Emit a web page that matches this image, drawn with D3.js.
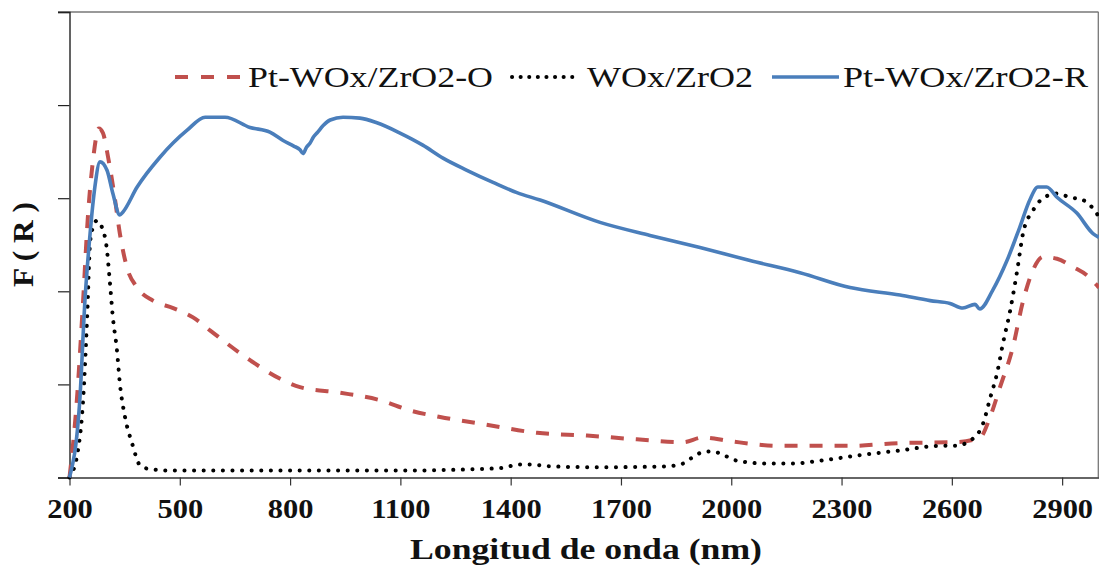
<!DOCTYPE html>
<html><head><meta charset="utf-8">
<script src="https://cdn.jsdelivr.net/npm/d3@7"></script>
<style>
html,body{margin:0;padding:0;background:#fff;}
svg{display:block;}
</style></head>
<body>
<svg id="chart" width="1099" height="569"></svg>
<script>
// ---- data (wavelength nm, F(R) arbitrary units) ----
const seriesNames = ["Pt-WOx/ZrO2-O", "WOx/ZrO2", "Pt-WOx/ZrO2-R"];
const xTicks = [200, 500, 800, 1100, 1400, 1700, 2000, 2300, 2600, 2900];
const yTicks = [0, 1, 2, 3, 4, 5];

const redO = [[200,0],[220,0.83],[237,1.9],[250,2.8],[264,3.41],[280,3.75],[291,3.7],[305,3.44],[324,2.98],[337,2.62],[356,2.26],[384,2.04],[427,1.9],[482,1.82],[536,1.72],[582,1.58],[691,1.26],[773,1.06],[827,0.97],[936,0.91],[1045,0.83],[1126,0.72],[1208,0.65],[1330,0.57],[1472,0.48],[1608,0.45],[1743,0.41],[1869,0.38],[1923,0.43],[1997,0.39],[2133,0.34],[2323,0.34],[2459,0.37],[2614,0.38],[2677,0.43],[2704,0.65],[2731,0.97],[2766,1.4],[2794,1.9],[2821,2.23],[2848,2.37],[2886,2.35],[2930,2.26],[2968,2.17],[3000,2.04]];

const blackW = [[200,0],[223,0.29],[237,0.83],[248,1.72],[256,2.52],[264,2.69],[275,2.76],[288,2.69],[302,2.44],[310,2.09],[318,1.72],[329,1.37],[337,1.01],[351,0.65],[370,0.37],[392,0.13],[419,0.09],[473,0.075],[1099,0.075],[1371,0.1],[1425,0.14],[1453,0.14],[1507,0.12],[1643,0.11],[1825,0.12],[1869,0.15],[1896,0.22],[1920,0.27],[1942,0.28],[1969,0.26],[1991,0.22],[2016,0.18],[2097,0.15],[2168,0.15],[2241,0.18],[2350,0.24],[2459,0.29],[2568,0.34],[2609,0.34],[2658,0.42],[2685,0.58],[2704,0.85],[2723,1.12],[2739,1.44],[2759,1.8],[2778,2.23],[2794,2.63],[2821,2.87],[2848,3.0],[2886,3.05],[2921,3.01],[2957,2.98],[2984,2.89],[3000,2.8]];

const blueR = [[200,0],[228,0.83],[242,1.9],[256,2.62],[269,3.12],[283,3.39],[302,3.3],[318,3.05],[337,2.82],[345,2.85],[384,3.12],[446,3.44],[520,3.73],[569,3.87],[623,3.87],[691,3.76],[745,3.71],[781,3.62],[810,3.56],[827,3.52],[835,3.48],[845,3.55],[854,3.59],[864,3.66],[873,3.7],[890,3.78],[909,3.84],[944,3.87],[990,3.86],[1036,3.81],[1099,3.7],[1161,3.57],[1216,3.43],[1281,3.3],[1352,3.17],[1417,3.06],[1480,2.98],[1643,2.74],[1779,2.6],[1915,2.47],[2051,2.33],[2187,2.2],[2323,2.04],[2459,1.96],[2541,1.9],[2595,1.87],[2630,1.82],[2663,1.86],[2676,1.81],[2711,2.01],[2750,2.33],[2785,2.69],[2812,2.98],[2834,3.12],[2858,3.12],[2886,3.01],[2940,2.84],[2984,2.62],[3000,2.58]];

// ---- drawing ----
const svg = d3.select("#chart");
const serif = "'Liberation Serif','Times New Roman',serif";
const x = d3.scaleLinear().domain([200, 3000]).range([69.5, 1098.9]);
const y = d3.scaleLinear().domain([0, 5]).range([477.5, 12]);

// border (top / right)
svg.append("line").attr("x1", 58).attr("x2", 1098.5).attr("y1", 12).attr("y2", 12).attr("stroke", "#777").attr("stroke-width", 1.3);
svg.append("line").attr("x1", 1098.3).attr("x2", 1098.3).attr("y1", 12).attr("y2", 477.5).attr("stroke", "#777").attr("stroke-width", 1.3);

// y axis
const gy = svg.append("g").attr("transform", "translate(69.5,0)")
  .call(d3.axisLeft(y).tickValues(yTicks).tickSize(11.5).tickFormat(""));
gy.select(".domain").attr("stroke", "#222").attr("stroke-width", 1.4);
gy.selectAll(".tick line").attr("stroke", "#222").attr("stroke-width", 1.2);

// x axis
const gx = svg.append("g").attr("transform", "translate(0,477.5)")
  .call(d3.axisBottom(x).tickValues(xTicks).tickSize(8).tickSizeOuter(0).tickFormat(d3.format("d")));
gx.select(".domain").attr("stroke", "#333").attr("stroke-width", 1.4);
gx.selectAll(".tick line").attr("stroke", "#333").attr("stroke-width", 1.2);
gx.selectAll(".tick text")
  .attr("y", 40.5).attr("dy", 0)
  .attr("fill", "#111")
  .attr("font-family", serif).attr("font-weight", "bold").attr("font-size", 26.5)
  .attr("transform", "scale(1.15,1)");

// series
const line = d3.line().x(d => x(d[0])).y(d => y(d[1])).curve(d3.curveMonotoneX);
const plot = svg.append("g");
plot.append("path").datum(redO).attr("d", line).attr("fill", "none")
  .attr("stroke", "#C0504D").attr("stroke-width", 4).attr("stroke-dasharray", "13 12");
plot.append("path").datum(blackW).attr("d", line).attr("fill", "none")
  .attr("stroke", "#000").attr("stroke-width", 4).attr("stroke-linecap", "round").attr("stroke-dasharray", "0.1 9.5");
plot.append("path").datum(blueR).attr("d", line).attr("fill", "none")
  .attr("stroke", "#4A7EBB").attr("stroke-width", 3.6).attr("stroke-linejoin", "round");

// legend
const leg = svg.append("g");
leg.append("line").attr("x1", 175).attr("x2", 242).attr("y1", 77).attr("y2", 77)
  .attr("stroke", "#C0504D").attr("stroke-width", 4).attr("stroke-dasharray", "13 13");
leg.append("line").attr("x1", 512).attr("x2", 576).attr("y1", 77).attr("y2", 77)
  .attr("stroke", "#000").attr("stroke-width", 4).attr("stroke-linecap", "round").attr("stroke-dasharray", "0.1 8.5");
leg.append("line").attr("x1", 772).attr("x2", 839).attr("y1", 77).attr("y2", 77)
  .attr("stroke", "#4A7EBB").attr("stroke-width", 3.6);
const legText = [[248, 245, seriesNames[0]], [587, 166, seriesNames[1]], [843, 245, seriesNames[2]]];
legText.forEach(t => {
  leg.append("text").attr("x", t[0]).attr("y", 87).attr("font-family", serif).attr("font-size", 30)
    .attr("fill", "#111").attr("textLength", t[1]).attr("lengthAdjust", "spacingAndGlyphs").text(t[2]);
});

// axis titles
svg.append("text").attr("x", 410).attr("y", 559).attr("font-family", serif).attr("font-weight", "bold")
  .attr("font-size", 29).attr("fill", "#111").attr("textLength", 352).attr("lengthAdjust", "spacingAndGlyphs")
  .text("Longitud de onda (nm)");
svg.append("text").attr("transform", "translate(33,287) rotate(-90)").attr("font-family", serif).attr("font-weight", "bold")
  .attr("font-size", 30).attr("fill", "#111").attr("textLength", 85).attr("lengthAdjust", "spacingAndGlyphs")
  .text("F ( R )");
</script>
</body></html>
